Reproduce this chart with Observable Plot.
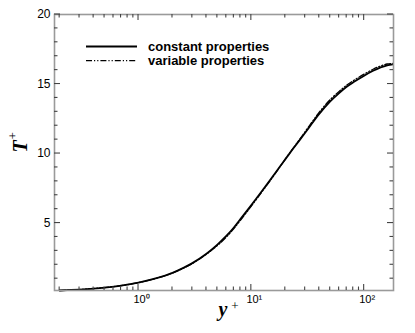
<!DOCTYPE html>
<html>
<head>
<meta charset="utf-8">
<script src="https://cdn.jsdelivr.net/npm/d3@7"></script>
<script src="https://cdn.jsdelivr.net/npm/@observablehq/plot@0.6"></script>
<style>
  html, body { margin: 0; padding: 0; background: #fff; }
  #chart { position: relative; width: 415px; height: 333px; }
</style>
</head>
<body>
<div id="chart"></div>
<script>
// ---- data ----
const yPlus = [0.2,0.3,0.4,0.5,0.7,1,1.5,2,2.5,3,4,5,6,7,8,10,12,15,18,22,27,33,40,50,60,70,80,100,120,140,160,180];
const tConstant = [0.15,0.22,0.29,0.36,0.5,0.72,1.07,1.42,1.78,2.12,2.8,3.45,4.07,4.68,5.28,6.3,7.15,8.2,9.08,10.05,11.0,11.95,12.85,13.75,14.35,14.8,15.12,15.6,15.95,16.2,16.35,16.42];
const tVariable = [0.15,0.22,0.29,0.36,0.5,0.72,1.07,1.41,1.76,2.09,2.76,3.38,3.99,4.6,5.2,6.22,7.08,8.15,9.06,10.07,11.06,12.05,12.97,13.88,14.47,14.92,15.24,15.71,16.06,16.3,16.44,16.48];
const seriesNames = ["constant properties", "variable properties"];
const xMajorTicks = [1, 10, 100];
const xMajorLabels = ["10\u2070", "10\u00b9", "10\u00b2"];
const xMinorTicks = [0.2,0.3,0.4,0.5,0.6,0.7,0.8,0.9,2,3,4,5,6,7,8,9,20,30,40,50,60,70,80,90];
const yMajorTicks = [5, 10, 15, 20];
const yMinorTicks = [1,2,3,4,6,7,8,9,11,12,13,14,16,17,18,19];
const xTitle = ["y", "+"];
const yTitle = ["T", "+"];

const rows = yPlus.map((y, i) => ({y, c: tConstant[i], v: tVariable[i]}));
const dashes = [null, "6,2,1.2,2,1.2,2"];

const W = 415, H = 333, ML = 54, MR = 22, MT = 14, MB = 43;
const tickColor = "#444";
const fontSans = "Liberation Sans, Arial, sans-serif";
const fontSerif = "Liberation Serif, Times New Roman, serif";
const MAJ = 6, MIN = 3.5;

const plot = Plot.plot({
  width: W,
  height: H,
  marginLeft: ML,
  marginRight: MR,
  marginTop: MT,
  marginBottom: MB,
  style: {fontFamily: fontSans, fontSize: "11px", background: "#fff", overflow: "visible"},
  x: {type: "log", domain: [0.18, 182]},
  y: {domain: [0.15, 20]},
  marks: [
    // curves
    Plot.line(rows, {x: "y", y: "c", stroke: "#000", strokeWidth: 1.8, curve: "catmull-rom"}),
    Plot.line(rows, {x: "y", y: "v", stroke: "#000", strokeWidth: 1.3, strokeDasharray: dashes[1], curve: "catmull-rom"}),
    Plot.frame({stroke: "#9a9a9a", strokeWidth: 1.6}),
    // tick labels
    Plot.axisX(xMajorTicks, {anchor: "bottom", tickSize: 0, tickPadding: 5, fill: "#000",
      tickFormat: d => xMajorLabels[xMajorTicks.indexOf(d)], label: null, dx: 3}),
    Plot.axisY(yMajorTicks, {anchor: "left", tickSize: 0, tickPadding: 4, fill: "#000",
      tickFormat: d => String(d), label: null, fontSize: 12}),
    // axis titles
    Plot.text([xTitle[0]], {frameAnchor: "bottom", text: d => d, dx: -1, dy: 25, fontFamily: fontSerif,
      fontWeight: "bold", fontStyle: "italic", fontSize: 20, fill: "#000"}),
    Plot.text([xTitle[1]], {frameAnchor: "bottom", text: d => d, dx: 11, dy: 19, fontFamily: fontSerif,
      fontSize: 13, fill: "#000"}),
    Plot.text([yTitle[0]], {frameAnchor: "left", text: d => d, dx: -34, dy: 0, rotate: -90, fontFamily: fontSerif,
      fontWeight: "bold", fontStyle: "italic", fontSize: 20, fill: "#000"}),
    Plot.text([yTitle[1]], {frameAnchor: "left", text: d => d, dx: -42, dy: -13, rotate: -90, fontFamily: fontSerif,
      fontSize: 13, fill: "#000"})
  ]
});
document.getElementById("chart").appendChild(plot);

const svg = d3.select(plot);

// inward ticks on all four sides, positioned through Plot's own scales
try {
  const sx = plot.scale("x"), sy = plot.scale("y");
  const fLeft = ML, fRight = W - MR, fTop = MT, fBottom = H - MB;
  const tg = svg.append("g").attr("stroke", tickColor).attr("stroke-width", 1.1);
  const xTicks = (values, len) => {
    values.forEach(v => {
      const px = sx.apply(v);
      tg.append("line").attr("x1", px).attr("x2", px).attr("y1", fBottom).attr("y2", fBottom - len);
      tg.append("line").attr("x1", px).attr("x2", px).attr("y1", fTop).attr("y2", fTop + len);
    });
  };
  const yTicks = (values, len) => {
    values.forEach(v => {
      const py = sy.apply(v);
      tg.append("line").attr("y1", py).attr("y2", py).attr("x1", fLeft).attr("x2", fLeft + len);
      tg.append("line").attr("y1", py).attr("y2", py).attr("x1", fRight).attr("x2", fRight - len);
    });
  };
  xTicks(xMajorTicks, MAJ);
  xTicks(xMinorTicks, MIN);
  yTicks(yMajorTicks, MAJ);
  yTicks(yMinorTicks, MIN);
} catch (e) { console.error(e); }

// legend inside the frame
const leg = svg.append("g").attr("font-family", fontSans).attr("font-size", 13)
  .attr("font-weight", "bold").attr("text-anchor", "start");
seriesNames.forEach((name, i) => {
  const yy = 46.5 + i * 14.2;
  leg.append("line").attr("x1", 86).attr("x2", 137).attr("y1", yy).attr("y2", yy)
    .attr("stroke", "#000").attr("stroke-width", i === 0 ? 1.8 : 1.3)
    .attr("stroke-dasharray", dashes[i]);
  leg.append("text").attr("x", 148).attr("y", yy).attr("dy", "0.35em").attr("fill", "#000")
    .attr("text-anchor", "start").text(name);
});
</script>
</body>
</html>
